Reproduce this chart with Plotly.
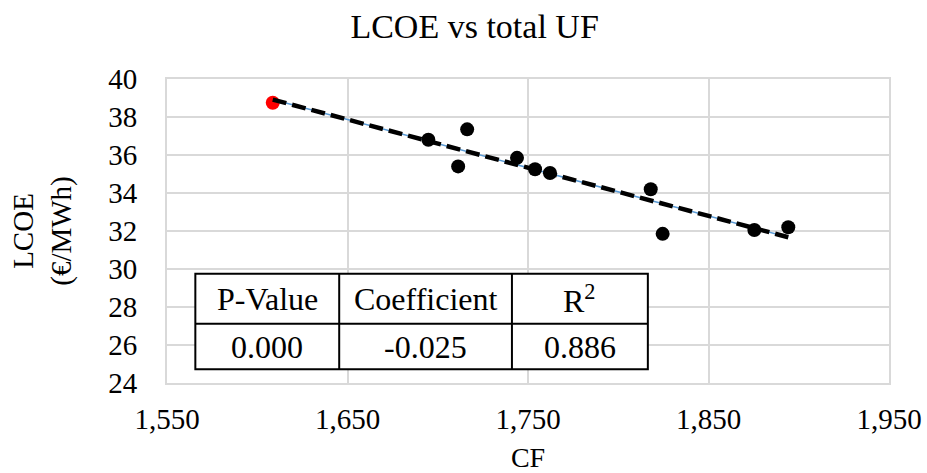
import numpy as np
import plotly.graph_objects as go

# Data
cf_red = [1608.6]
lcoe_red = [38.75]
cf = [1694.8, 1711.3, 1716.3, 1743.9, 1753.9, 1762.2, 1818.0, 1824.6, 1875.4, 1894.2]
lcoe = [36.8, 35.4, 37.35, 35.85, 35.25, 35.05, 34.2, 31.85, 32.05, 32.2]
x_ticks = [1550, 1650, 1750, 1850, 1950]
x_tick_labels = ["1,550", "1,650", "1,750", "1,850", "1,950"]
y_ticks = [24, 26, 28, 30, 32, 34, 36, 38, 40]
table_header = ["P-Value", "Coefficient", "R<sup>2</sup>"]
table_values = ["0.000", "-0.025", "0.886"]

all_x = np.array(cf_red + cf)
all_y = np.array(lcoe_red + lcoe)
slope, intercept = np.polyfit(all_x, all_y, 1)
tx = np.array([all_x.min(), all_x.max()])
ty = slope * tx + intercept

FONT = "Liberation Serif"
GRID = "#d9d9d9"

fig = go.Figure()
fig.add_trace(go.Scatter(x=tx, y=ty, mode="lines",
                         line=dict(color="#5b9bd5", width=1.5), hoverinfo="skip"))
fig.add_trace(go.Scatter(x=cf, y=lcoe, mode="markers",
                         marker=dict(color="black", size=14)))
fig.add_trace(go.Scatter(x=cf_red, y=lcoe_red, mode="markers",
                         marker=dict(color="#ff0000", size=14)))
fig.add_trace(go.Scatter(x=tx, y=ty, mode="lines",
                         line=dict(color="black", width=4.5, dash="14px,6px"), hoverinfo="skip"))

# Table (data coordinates)
tx0, tx1, tx2, tx3 = 1565.7, 1645.4, 1741.1, 1816.4
ty_top, ty_mid, ty_bot = 29.75, 27.12, 24.72
shapes = [
    dict(type="rect", xref="x", yref="y", x0=tx0, x1=tx3, y0=ty_bot, y1=ty_top,
         fillcolor="white", line=dict(color="black", width=2), layer="above"),
    dict(type="line", xref="x", yref="y", x0=tx0, x1=tx3, y0=ty_mid, y1=ty_mid,
         line=dict(color="black", width=2), layer="above"),
    dict(type="line", xref="x", yref="y", x0=tx1, x1=tx1, y0=ty_bot, y1=ty_top,
         line=dict(color="black", width=2), layer="above"),
    dict(type="line", xref="x", yref="y", x0=tx2, x1=tx2, y0=ty_bot, y1=ty_top,
         line=dict(color="black", width=2), layer="above"),
]
annotations = []
centers = [(tx0 + tx1) / 2, (tx1 + tx2) / 2, (tx2 + tx3) / 2]
for cx, h, v in zip(centers, table_header, table_values):
    annotations.append(dict(x=cx, y=(ty_top + ty_mid) / 2, xref="x", yref="y", text=h,
                            showarrow=False, font=dict(family=FONT, size=32, color="black")))
    annotations.append(dict(x=cx, y=(ty_mid + ty_bot) / 2, xref="x", yref="y", text=v,
                            showarrow=False, font=dict(family=FONT, size=32, color="black")))

fig.update_layout(
    width=927, height=473,
    margin=dict(l=167, r=38, t=79, b=90),
    paper_bgcolor="white", plot_bgcolor="white",
    showlegend=False,
    title=dict(text="LCOE vs total UF", x=0.512, xanchor="center", y=0.945, yanchor="middle",
               font=dict(family=FONT, size=34, color="black")),
    font=dict(family=FONT, color="black"),
    shapes=shapes, annotations=annotations,
)
fig.update_xaxes(range=[1550, 1950], tickvals=x_ticks, ticktext=x_tick_labels,
                 automargin=False,
                 showgrid=True, gridcolor=GRID, gridwidth=2,
                 showline=True, linecolor=GRID, linewidth=2, mirror=True,
                 zeroline=False, ticks="", tickfont=dict(family=FONT, size=29),
                 ticklabelstandoff=9,
                 title=dict(text="CF", font=dict(family=FONT, size=28), standoff=16))
fig.update_yaxes(range=[24, 40], tickvals=y_ticks,
                 automargin=False,
                 showgrid=True, gridcolor=GRID, gridwidth=2,
                 showline=True, linecolor=GRID, linewidth=2, mirror=True,
                 zeroline=False, ticks="", tickfont=dict(family=FONT, size=29),
                 ticklabelstandoff=22,
                 title=dict(text="LCOE<br>(€/MWh)", font=dict(family=FONT, size=29), standoff=28))

fig.write_html("out.html")
